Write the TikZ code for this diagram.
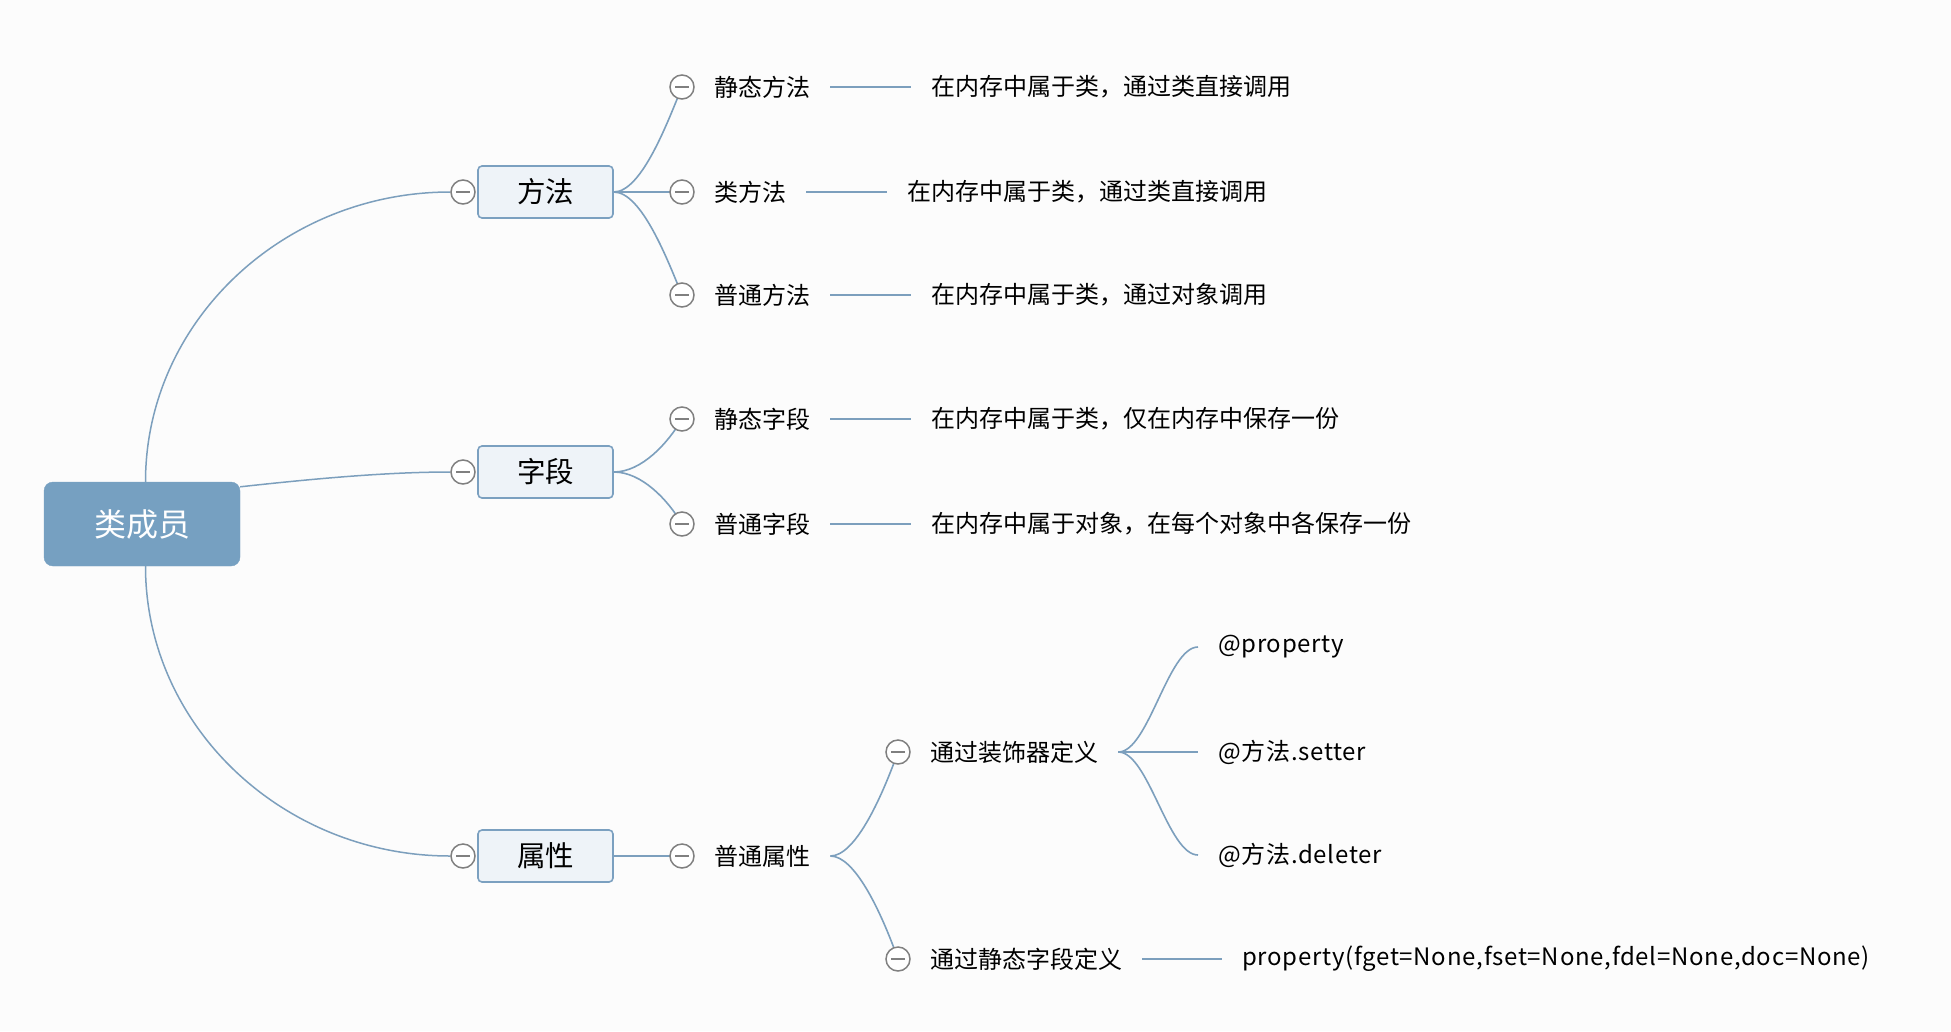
\documentclass[tikz,border=0pt]{standalone}
\usepackage{fontspec}
\setmainfont{Noto Sans CJK SC}
\usetikzlibrary{backgrounds}
\definecolor{bgc}{HTML}{FCFCFC}
\definecolor{rootc}{HTML}{76A0C1}
\definecolor{linec}{HTML}{7C9FBD}
\definecolor{boxfill}{HTML}{EEF3F8}
\definecolor{boxline}{HTML}{7BA0C0}
\definecolor{circc}{HTML}{808080}
\tikzset{
  rootbox/.style={draw=rootc,fill=rootc,rounded corners=9pt,minimum width=196pt,minimum height=84pt,text=white,font=\fontsize{32}{36}\selectfont,inner sep=0pt},
  topicbox/.style={draw=boxline,line width=1.6pt,fill=boxfill,rounded corners=4pt,minimum width=135pt,minimum height=52pt,font=\fontsize{28.5}{32}\selectfont,inner sep=0pt},
  foldc/.style={circle,draw=circc,line width=1.5pt,fill=white,minimum size=24pt,inner sep=0pt,
    path picture={\draw[circc,line width=1.5pt] ([xshift=-7pt]path picture bounding box.center) -- ([xshift=7pt]path picture bounding box.center);}},
  lbl/.style={anchor=west,inner xsep=20pt,inner ysep=2pt,font=\fontsize{24}{28}\selectfont,text=black},
  latin/.style={lbl,font=\fontsize{24}{28}\selectfont\addfontfeature{LetterSpace=3}},
  conn/.style={draw=linec,line width=1.6pt},
}
\begin{document}
\begin{tikzpicture}[x=1pt,y=-1pt]
\useasboundingbox (0,0) rectangle (1951,1031);
% root
\node[rootbox] (root) at (142,524) {类成员};
% level 1
\node[topicbox] (ff) at (545.5,192) {方法};
\node[topicbox] (zd) at (545.5,472) {字段};
\node[topicbox] (sx) at (545.5,856) {属性};
\node[foldc] (cff) at (463,192) {};
\node[foldc] (czd) at (463,472) {};
\node[foldc] (csx) at (463,856) {};
% methods
\node[foldc] (c1) at (682,87) {};
\node[foldc] (c2) at (682,192) {};
\node[foldc] (c3) at (682,295) {};
\node[lbl] (m1) at (694,87) {静态方法};
\node[lbl] (m2) at (694,192) {类方法};
\node[lbl] (m3) at (694,295) {普通方法};
\node[lbl] (d1) at (911,87) {在内存中属于类，通过类直接调用};
\node[lbl] (d2) at (887,192) {在内存中属于类，通过类直接调用};
\node[lbl] (d3) at (911,295) {在内存中属于类，通过对象调用};
% fields
\node[foldc] (c4) at (682,419) {};
\node[foldc] (c5) at (682,524) {};
\node[lbl] (f1) at (694,419) {静态字段};
\node[lbl] (f2) at (694,524) {普通字段};
\node[lbl] (d4) at (911,419) {在内存中属于类，仅在内存中保存一份};
\node[lbl] (d5) at (911,524) {在内存中属于对象，在每个对象中各保存一份};
% properties
\node[foldc] (c6) at (682,856) {};
\node[lbl] (p1) at (694,856) {普通属性};
\node[foldc] (c7) at (898,752) {};
\node[foldc] (c8) at (898,959) {};
\node[lbl] (q1) at (910,752) {通过装饰器定义};
\node[lbl] (q2) at (910,959) {通过静态字段定义};
\node[latin] (r1) at (1198,647) {@property};
\node[latin] (r2) at (1198,752) {@方法.setter};
\node[latin] (r3) at (1198,855) {@方法.deleter};
\node[latin] (r4) at (1222,959) {property(fget=None,fset=None,fdel=None,doc=None)};
\begin{scope}[on background layer]
\fill[bgc] (0,0) rectangle (1951,1031);
% root connectors
\draw[conn,line width=1.5pt] ([xshift=3.5pt]root.north) .. controls (145.5,322) and (283,192) .. (cff.west);
\draw[conn,line width=1.5pt] ([yshift=-5pt]root.north east) .. controls (320,478) and (390,472) .. (czd.west);
\draw[conn,line width=1.5pt] ([xshift=3.5pt]root.south) .. controls (145.5,726) and (283,856) .. (csx.west);
% methods
\draw[conn] (ff.east) .. controls +(28,0) and +(-14,34) .. (c1.center);
\draw[conn] (ff.east) -- (c2.center);
\draw[conn] (ff.east) .. controls +(28,0) and +(-14,-34) .. (c3.center);
\draw[conn] (zd.east) .. controls +(28,0) and +(-14,24) .. (c4.center);
\draw[conn] (zd.east) .. controls +(28,0) and +(-14,-24) .. (c5.center);
\draw[conn] (sx.east) -- (c6.center);
\draw[conn] (m1.east) -- (d1.west);
\draw[conn] (m2.east) -- (d2.west);
\draw[conn] (m3.east) -- (d3.west);
\draw[conn] (f1.east) -- (d4.west);
\draw[conn] (f2.east) -- (d5.west);
% property branch
\draw[conn] (p1.east) .. controls +(24,0) and +(-18,50) .. (c7.center);
\draw[conn] (p1.east) .. controls +(24,0) and +(-18,-50) .. (c8.center);
\draw[conn] (q1.east) .. controls +(30,0) and +(-30,0) .. (r1.west);
\draw[conn] (q1.east) -- (r2.west);
\draw[conn] (q1.east) .. controls +(30,0) and +(-30,0) .. (r3.west);
\draw[conn] (q2.east) -- (r4.west);
\end{scope}
\end{tikzpicture}
\end{document}
